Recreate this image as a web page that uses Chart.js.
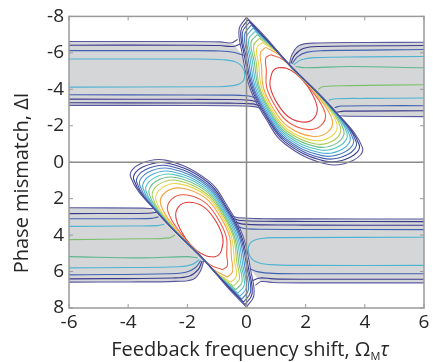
<!DOCTYPE html>
<html>
<head>
<meta charset="utf-8">
<script src="https://cdn.jsdelivr.net/npm/chart.js@4.4.1/dist/chart.umd.min.js"></script>
<style>
  html, body { margin: 0; padding: 0; background: #fff; }
</style>
</head>
<body>
<canvas id="chart" width="433" height="362"></canvas>
<script>
// axis ticks
const xTicks = [-6, -4, -2, 0, 2, 4, 6];
const yTicks = [-8, -6, -4, -2, 0, 2, 4, 6, 8];

// closed contours of the upper-right lobe, outermost first  [x, y]
const lobeUpper = [
  [[0,-7.95],[0.65,-6.85],[1.45,-5.35],[3.0,-2.8],[3.92,-0.8],[3.6,-0.1],[2.7,0.1],[1.3,-1.0],[0.65,-2.4],[0.13,-4.0],[-0.15,-6.0],[-0.25,-7.3]],
  [[0.05,-7.82],[0.76,-6.58],[1.47,-5.32],[2.94,-2.89],[3.81,-0.96],[3.51,-0.27],[2.65,-0.06],[1.31,-1.10],[0.68,-2.46],[0.18,-4.01],[-0.08,-5.92],[-0.19,-7.21]],
  [[0.10,-7.68],[0.79,-6.52],[1.48,-5.28],[2.89,-2.98],[3.71,-1.11],[3.42,-0.42],[2.60,-0.21],[1.32,-1.20],[0.70,-2.51],[0.22,-4.02],[-0.02,-5.84],[-0.14,-7.10]],
  [[0.16,-7.52],[0.83,-6.44],[1.50,-5.25],[2.83,-3.06],[3.61,-1.26],[3.34,-0.57],[2.55,-0.36],[1.33,-1.29],[0.73,-2.56],[0.26,-4.03],[0.05,-5.77],[-0.07,-6.98]],
  [[0.22,-7.36],[0.87,-6.37],[1.52,-5.22],[2.77,-3.15],[3.50,-1.42],[3.25,-0.73],[2.50,-0.52],[1.34,-1.39],[0.76,-2.62],[0.31,-4.04],[0.12,-5.69],[0.0,-6.86]],
  [[0.29,-7.18],[0.92,-6.28],[1.54,-5.18],[2.71,-3.24],[3.40,-1.58],[3.16,-0.90],[2.45,-0.68],[1.35,-1.49],[0.79,-2.67],[0.36,-4.05],[0.19,-5.61],[0.07,-6.72]],
  [[0.36,-7.0],[0.96,-6.2],[1.55,-5.15],[2.65,-3.33],[3.29,-1.74],[3.07,-1.06],[2.39,-0.84],[1.36,-1.59],[0.81,-2.73],[0.41,-4.06],[0.26,-5.53],[0.15,-6.57]],
  [[0.44,-6.8],[1.0,-6.1],[1.57,-5.11],[2.57,-3.45],[3.18,-1.90],[2.98,-1.23],[2.34,-1.00],[1.37,-1.70],[0.84,-2.78],[0.45,-4.07],[0.33,-5.45],[0.24,-6.41]],
  [[0.53,-6.58],[1.06,-6.0],[1.59,-5.07],[2.45,-3.6],[3.06,-2.09],[2.87,-1.42],[2.28,-1.19],[1.38,-1.81],[0.87,-2.85],[0.51,-4.08],[0.41,-5.36],[0.34,-6.24]],
  [[0.65,-6.3],[1.14,-5.85],[1.62,-5.02],[2.35,-3.75],[2.90,-2.32],[2.74,-1.65],[2.21,-1.42],[1.40,-1.96],[0.91,-2.93],[0.57,-4.10],[0.51,-5.24],[0.47,-6.01]],
  [[0.82,-5.9],[1.24,-5.62],[1.66,-4.94],[2.2,-3.95],[2.66,-2.69],[2.53,-2.03],[2.09,-1.79],[1.42,-2.19],[0.98,-3.06],[0.68,-4.12],[0.67,-5.06],[0.65,-5.70]],
  [[1.10,-5.20],[1.35,-5.15],[1.68,-4.85],[2.05,-4.2],[2.38,-3.10],[2.30,-2.45],[1.95,-2.20],[1.45,-2.45],[1.05,-3.20],[0.80,-4.15],[0.85,-4.85],[0.95,-5.10]]
];

// closed contours of the lower-left lobe, outermost first
const lobeLower = [
  [[0,7.95],[-0.65,6.85],[-1.45,5.35],[-3.0,2.8],[-3.92,0.8],[-3.6,0.1],[-2.7,-0.1],[-1.3,1.0],[-0.65,2.4],[-0.13,4.0],[0.15,6.0],[0.25,7.3]],
  [[-0.05,7.82],[-0.76,6.58],[-1.47,5.32],[-2.94,2.89],[-3.81,0.96],[-3.51,0.27],[-2.65,0.06],[-1.31,1.10],[-0.68,2.46],[-0.18,4.01],[0.08,5.92],[0.19,7.21]],
  [[-0.10,7.68],[-0.79,6.52],[-1.48,5.28],[-2.89,2.98],[-3.71,1.11],[-3.42,0.42],[-2.60,0.21],[-1.32,1.20],[-0.70,2.51],[-0.22,4.02],[0.02,5.84],[0.14,7.10]],
  [[-0.16,7.52],[-0.83,6.44],[-1.50,5.25],[-2.83,3.06],[-3.61,1.26],[-3.34,0.57],[-2.55,0.36],[-1.33,1.29],[-0.73,2.56],[-0.26,4.03],[-0.05,5.77],[0.07,6.98]],
  [[-0.22,7.36],[-0.87,6.37],[-1.52,5.22],[-2.77,3.15],[-3.50,1.42],[-3.25,0.73],[-2.50,0.52],[-1.34,1.39],[-0.76,2.62],[-0.31,4.04],[-0.12,5.69],[0.0,6.86]],
  [[-0.29,7.18],[-0.92,6.28],[-1.54,5.18],[-2.71,3.24],[-3.40,1.58],[-3.16,0.90],[-2.45,0.68],[-1.35,1.49],[-0.79,2.67],[-0.36,4.05],[-0.19,5.61],[-0.07,6.72]],
  [[-0.36,7.0],[-0.96,6.2],[-1.55,5.15],[-2.65,3.33],[-3.29,1.74],[-3.07,1.06],[-2.39,0.84],[-1.36,1.59],[-0.81,2.73],[-0.41,4.06],[-0.26,5.53],[-0.15,6.57]],
  [[-0.44,6.8],[-1.0,6.1],[-1.57,5.11],[-2.57,3.45],[-3.18,1.90],[-2.98,1.23],[-2.34,1.00],[-1.37,1.70],[-0.84,2.78],[-0.45,4.07],[-0.33,5.45],[-0.24,6.41]],
  [[-0.53,6.58],[-1.06,6.0],[-1.59,5.07],[-2.45,3.6],[-3.06,2.09],[-2.87,1.42],[-2.28,1.19],[-1.38,1.81],[-0.87,2.85],[-0.51,4.08],[-0.41,5.36],[-0.34,6.24]],
  [[-0.65,6.3],[-1.14,5.85],[-1.62,5.02],[-2.35,3.75],[-2.90,2.32],[-2.74,1.65],[-2.21,1.42],[-1.40,1.96],[-0.91,2.93],[-0.57,4.10],[-0.51,5.24],[-0.47,6.01]],
  [[-0.82,5.9],[-1.24,5.62],[-1.66,4.94],[-2.2,3.95],[-2.66,2.69],[-2.53,2.03],[-2.09,1.79],[-1.42,2.19],[-0.98,3.06],[-0.68,4.12],[-0.67,5.06],[-0.65,5.70]],
  [[-1.10,5.20],[-1.35,5.15],[-1.68,4.85],[-2.05,4.2],[-2.38,3.10],[-2.30,2.45],[-1.95,2.20],[-1.45,2.45],[-1.05,3.20],[-0.80,4.15],[-0.85,4.85],[-0.95,5.10]]
];

// shaded bands
const grayUL = [[-6,-6.62],[-0.9,-6.6],[-0.45,-6.5],[-0.2,-6.0],[0.2,-4.5],[0.6,-3.0],[0,-3.05],[-2,-3.1],[-6,-3.12]];
const grayUR = [[1.45,-5.35],[1.55,-5.95],[1.8,-6.45],[2.4,-6.56],[6,-6.6],[6,-2.5],[3.3,-2.52],[2.9,-2.9],[2.2,-4.0]];
const grayLL = [[-1.45,5.35],[-1.55,5.95],[-1.8,6.45],[-2.4,6.56],[-6,6.6],[-6,2.5],[-3.3,2.52],[-2.9,2.9],[-2.2,4.0]];
const grayLR = [[6,6.62],[0.9,6.6],[0.45,6.5],[0.2,6.0],[-0.2,4.5],[-0.6,3.0],[0,3.05],[2,3.1],[6,3.12]];

// band contour lines, upper left
const ulOuterTop = [[-6,-6.62],[-2,-6.62],[-0.9,-6.6],[-0.5,-6.55],[-0.3,-6.75]];
const ulNavyTop = [[-6,-6.42],[-2,-6.42],[-0.9,-6.4],[-0.45,-6.35],[-0.2,-6.5]];
const ulBlueTop = [[-6,-6.12],[-2,-6.12],[-0.9,-6.1],[-0.4,-6.02],[-0.1,-5.85]];
const ulCyan = [[-6,-5.66],[-2,-5.66],[-0.8,-5.62],[-0.3,-5.45],[-0.08,-5.0],[-0.12,-4.45],[-0.45,-4.2],[-1.2,-4.14],[-6,-4.12]];
const ulBlueBot = [[-6,-3.70],[-2,-3.69],[-0.6,-3.68],[0.0,-3.65],[0.28,-3.55]];
const ulNavyBot = [[-6,-3.46],[-2,-3.45],[-0.6,-3.44],[0.1,-3.4],[0.36,-3.3]];
const ulNavyBot2 = [[-6,-3.26],[-2,-3.25],[-0.6,-3.24],[0.2,-3.2],[0.44,-3.1]];
const ulOuterBot = [[-6,-3.12],[-2,-3.11],[-0.6,-3.1],[0.25,-3.05],[0.5,-2.95]];

// upper right
const urOuterTop = [[1.45,-5.4],[1.55,-5.95],[1.8,-6.42],[2.4,-6.54],[4,-6.57],[6,-6.58]];
const urNavyTop = [[1.5,-5.42],[1.63,-5.88],[1.92,-6.24],[2.5,-6.35],[6,-6.4]];
const urBlueTop = [[1.55,-5.4],[1.72,-5.78],[2.05,-6.04],[2.6,-6.12],[6,-6.18]];
const urCyanTop = [[1.6,-5.35],[1.85,-5.62],[2.3,-5.74],[4,-5.78],[6,-5.8]];
const urGreenTop = [[1.65,-5.25],[2.0,-5.18],[3.5,-5.25],[6,-5.18]];
const urGreenBot = [[2.42,-4.0],[2.6,-4.15],[3.5,-4.2],[6,-4.25]];
const urCyanBot = [[2.78,-3.4],[3.0,-3.48],[4,-3.5],[6,-3.52]];
const urBlueBot = [[2.98,-3.0],[3.2,-3.08],[4.5,-3.1],[6,-3.1]];
const urNavyBot = [[3.05,-2.75],[3.3,-2.8],[6,-2.82]];
const urOuterBot = [[3.15,-2.55],[3.5,-2.52],[6,-2.5]];

// lower left
const llOuterBot = [[-1.45,5.4],[-1.55,5.95],[-1.8,6.42],[-2.4,6.54],[-4,6.57],[-6,6.58]];
const llNavyBot = [[-1.5,5.42],[-1.63,5.88],[-1.92,6.24],[-2.5,6.35],[-6,6.4]];
const llBlueBot = [[-1.55,5.4],[-1.72,5.78],[-2.05,6.04],[-2.6,6.12],[-6,6.18]];
const llCyanBot = [[-1.6,5.35],[-1.85,5.62],[-2.3,5.74],[-4,5.78],[-6,5.8]];
const llGreenBot = [[-1.65,5.25],[-2.0,5.18],[-3.5,5.25],[-6,5.18]];
const llGreenTop = [[-2.42,4.0],[-2.6,4.15],[-3.5,4.2],[-6,4.25]];
const llCyanTop = [[-2.78,3.4],[-3.0,3.48],[-4,3.5],[-6,3.52]];
const llBlueTop = [[-2.98,3.0],[-3.2,3.08],[-4.5,3.1],[-6,3.1]];
const llNavyTop = [[-3.05,2.75],[-3.3,2.8],[-6,2.82]];
const llOuterTop = [[-3.15,2.55],[-3.5,2.52],[-6,2.5]];

// lower right
const lrOuterBot = [[6,6.62],[2,6.62],[0.9,6.6],[0.5,6.55],[0.3,6.75]];
const lrNavyBot = [[6,6.42],[2,6.42],[0.9,6.4],[0.45,6.35],[0.2,6.5]];
const lrBlueBot = [[6,6.12],[2,6.12],[0.9,6.1],[0.4,6.02],[0.1,5.85]];
const lrCyan = [[6,5.66],[2,5.66],[0.8,5.62],[0.3,5.45],[0.08,5.0],[0.12,4.45],[0.45,4.2],[1.2,4.14],[6,4.12]];
const lrBlueTop = [[6,3.70],[2,3.69],[0.6,3.68],[0.0,3.65],[-0.28,3.55]];
const lrNavyTop = [[6,3.46],[2,3.45],[0.6,3.44],[-0.1,3.4],[-0.36,3.3]];
const lrNavyTop2 = [[6,3.26],[2,3.25],[0.6,3.24],[-0.2,3.2],[-0.44,3.1]];
const lrOuterTop = [[6,3.12],[2,3.11],[0.6,3.1],[-0.25,3.05],[-0.5,2.95]];

// colours
const lobeColors = ['#5858a0', '#3c3c8e', '#3f5aaa', '#4a82c4', '#4aaed6', '#55c3c4',
                    '#6fbf8c', '#a9cc55', '#e9d64a', '#f3a544', '#eb5b4a', '#df3b3b'];
const LAV = '#5a5aa0', NAVY = '#3a3a8c', BLUE = '#4060b0', CYAN = '#4fb4d2', GREEN1 = '#5db68e', GREEN2 = '#7cbf6a';
const GRAY = '#d5d6d8';

const bandLines = [
  [ulOuterTop, LAV], [ulNavyTop, NAVY], [ulBlueTop, BLUE], [ulCyan, CYAN],
  [ulBlueBot, BLUE], [ulNavyBot, NAVY], [ulNavyBot2, NAVY], [ulOuterBot, LAV],
  [urOuterTop, LAV], [urNavyTop, NAVY], [urBlueTop, BLUE], [urCyanTop, CYAN], [urGreenTop, GREEN1],
  [urGreenBot, GREEN2], [urCyanBot, CYAN], [urBlueBot, BLUE], [urNavyBot, NAVY], [urOuterBot, LAV],
  [llOuterBot, LAV], [llNavyBot, NAVY], [llBlueBot, BLUE], [llCyanBot, CYAN], [llGreenBot, GREEN1],
  [llGreenTop, GREEN2], [llCyanTop, CYAN], [llBlueTop, BLUE], [llNavyTop, NAVY], [llOuterTop, LAV],
  [lrOuterBot, LAV], [lrNavyBot, NAVY], [lrBlueBot, BLUE], [lrCyan, CYAN],
  [lrBlueTop, BLUE], [lrNavyTop, NAVY], [lrNavyTop2, NAVY], [lrOuterTop, LAV]
];

const FONT = "'Open Sans', 'DejaVu Sans', sans-serif";

function toXY(arr) { return arr.map(p => ({ x: p[0], y: p[1] })); }
function closed(arr) { return toXY(arr.concat([arr[0]])); }

const datasets = [];

// contour lines on top
lobeUpper.concat(lobeLower).forEach((c, i) => {
  datasets.push({
    data: closed(c), borderColor: lobeColors[i % 12], borderWidth: 1.1,
    tension: 0.4, fill: false, pointRadius: 0, order: 1
  });
});
bandLines.forEach(([pts, col]) => {
  datasets.push({
    data: toXY(pts), borderColor: col, borderWidth: 1.1,
    tension: 0.4, fill: false, pointRadius: 0, order: 1
  });
});
// white inside the lobes
[lobeUpper[0], lobeLower[0]].forEach(c => {
  datasets.push({
    data: closed(c), borderWidth: 0, borderColor: 'rgba(0,0,0,0)',
    backgroundColor: '#ffffff', fill: 'shape', tension: 0.4, pointRadius: 0, order: 2
  });
});
// grey bands underneath
[grayUL, grayUR, grayLL, grayLR].forEach(g => {
  datasets.push({
    data: closed(g), borderWidth: 0, borderColor: 'rgba(0,0,0,0)',
    backgroundColor: GRAY, fill: 'shape', tension: 0, pointRadius: 0, order: 3
  });
});

// frame, zero lines, inward ticks and titles
const framePlugin = {
  id: 'frame',
  afterDatasetsDraw(chart) {
    const { ctx, chartArea: a, scales: { x, y } } = chart;
    ctx.save();
    ctx.strokeStyle = '#8c8c8c';
    ctx.lineWidth = 1.5;
    ctx.beginPath();
    const x0 = x.getPixelForValue(0), y0 = y.getPixelForValue(0);
    ctx.moveTo(x0, a.top); ctx.lineTo(x0, a.bottom);
    ctx.moveTo(a.left, y0); ctx.lineTo(a.right, y0);
    ctx.stroke();
    ctx.restore();
  },
  afterDraw(chart) {
    const { ctx, chartArea: a, scales: { x, y } } = chart;
    ctx.save();
    ctx.strokeStyle = '#9a9a9a';
    ctx.lineWidth = 1.5;
    ctx.strokeRect(a.left, a.top, a.right - a.left, a.bottom - a.top);
    ctx.lineWidth = 1;
    ctx.beginPath();
    xTicks.forEach(v => {
      const px = x.getPixelForValue(v);
      ctx.moveTo(px, a.bottom); ctx.lineTo(px, a.bottom - 4);
      ctx.moveTo(px, a.top); ctx.lineTo(px, a.top + 4);
    });
    yTicks.forEach(v => {
      const py = y.getPixelForValue(v);
      ctx.moveTo(a.left, py); ctx.lineTo(a.left + 4, py);
      ctx.moveTo(a.right, py); ctx.lineTo(a.right - 4, py);
    });
    ctx.stroke();

    ctx.fillStyle = '#262626';
    // y title
    ctx.save();
    ctx.translate(22, 183);
    ctx.rotate(-Math.PI / 2);
    ctx.font = '20px ' + FONT;
    ctx.textAlign = 'center';
    ctx.textBaseline = 'middle';
    ctx.fillText('Phase mismatch, \u0394I', 0, 0);
    ctx.restore();

    // x title with subscript
    const main = 'Feedback frequency shift, \u03A9';
    ctx.font = '20px ' + FONT;
    const w1 = ctx.measureText(main).width;
    ctx.font = '11px ' + FONT;
    const w2 = ctx.measureText('M').width;
    ctx.font = 'italic 20px ' + FONT;
    const w3 = ctx.measureText('\u03C4').width;
    let sx = 250 - (w1 + w2 + w3) / 2;
    const base = 356;
    ctx.textAlign = 'left';
    ctx.textBaseline = 'alphabetic';
    ctx.font = '20px ' + FONT;
    ctx.fillText(main, sx, base);
    ctx.font = '11px ' + FONT;
    ctx.fillText('M', sx + w1, base + 4);
    ctx.font = 'italic 20px ' + FONT;
    ctx.fillText('\u03C4', sx + w1 + w2, base);
    ctx.restore();
  }
};

new Chart(document.getElementById('chart'), {
  type: 'line',
  data: { datasets },
  options: {
    responsive: false,
    animation: false,
    events: [],
    layout: { padding: { top: 16, right: 9, left: 0, bottom: 0 } },
    plugins: { legend: { display: false }, tooltip: { enabled: false } },
    scales: {
      x: {
        type: 'linear', min: -6, max: 6,
        afterBuildTicks: s => { s.ticks = xTicks.map(v => ({ value: v })); },
        afterFit: s => { s.height = 54; },
        grid: { display: false, drawTicks: false },
        border: { display: false },
        ticks: { color: '#262626', font: { family: FONT, size: 19 }, padding: 3, maxRotation: 0 }
      },
      y: {
        type: 'linear', min: -8, max: 8, reverse: true,
        afterBuildTicks: s => { s.ticks = yTicks.map(v => ({ value: v })); },
        afterFit: s => { s.width = 69; },
        grid: { display: false, drawTicks: false },
        border: { display: false },
        ticks: { color: '#262626', font: { family: FONT, size: 19 }, padding: 5 }
      }
    }
  },
  plugins: [framePlugin]
});
</script>
</body>
</html>
